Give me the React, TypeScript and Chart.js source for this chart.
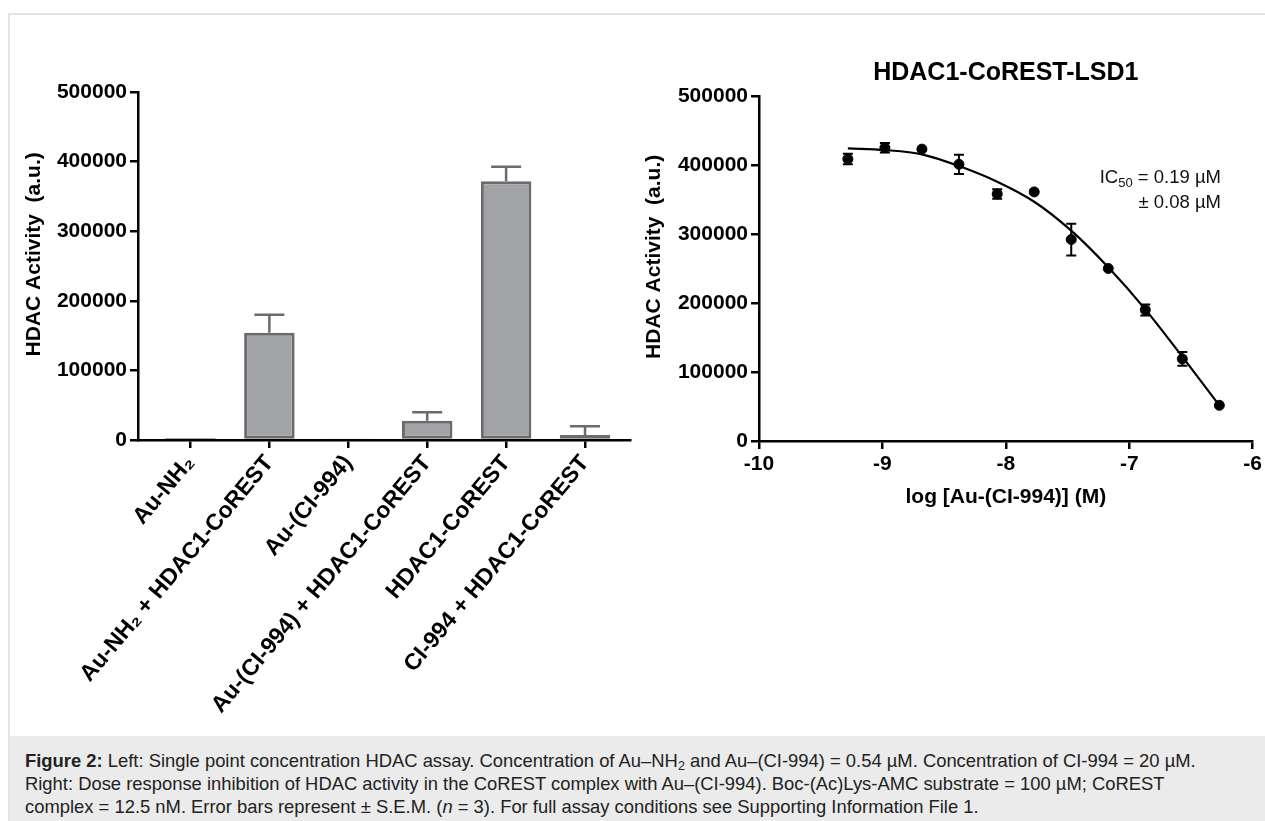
import React, { useEffect, useRef } from "react";
import { Chart, registerables } from "chart.js";

Chart.register(...registerables);

// ---------- data ----------
const barCategories = [
  "Au-NH₂",
  "Au-NH₂ + HDAC1-CoREST",
  "Au-(CI-994)",
  "Au-(CI-994) + HDAC1-CoREST",
  "HDAC1-CoREST",
  "CI-994 + HDAC1-CoREST",
];
const barValues = [3000, 154000, 2000, 27700, 371700, 7200];
const barErrors = [0, 26000, 0, 12000, 21000, 12500];
const activityTicks = [0, 100000, 200000, 300000, 400000, 500000];

const doseLogConc = [-9.28, -8.98, -8.68, -8.38, -8.07, -7.77, -7.47, -7.17, -6.87, -6.57, -6.27];
const doseActivity = [408700, 425000, 423000, 401000, 358000, 361000, 292000, 250000, 190000, 119000, 51700];
const doseErrors = [7500, 7000, 0, 14000, 7000, 0, 23000, 0, 8000, 10000, 0];

const fitLogConc = [-9.28, -8.98, -8.68, -8.38, -8.07, -7.77, -7.47, -7.17, -6.87, -6.57, -6.27];
const fitActivity = [424200, 421700, 415500, 398500, 375800, 346800, 304800, 251700, 190800, 122200, 51700];
const logTicks = [-10, -9, -8, -7, -6];

// ---------- styling ----------
const FONT = "'Liberation Sans', Arial, Helvetica, sans-serif";
const boldFont = (size: number) => ({ family: FONT, size, weight: "bold" as const });

const errorBarPlugin = {
  id: "errorBars",
  afterDatasetsDraw(chart: any) {
    const { ctx } = chart;
    const ys = chart.scales.y;
    chart.data.datasets.forEach((ds: any, di: number) => {
      if (!ds.errors) return;
      const st = ds.errorStyle || {};
      const meta = chart.getDatasetMeta(di);
      meta.data.forEach((el: any, i: number) => {
        const e = ds.errors[i];
        if (!e) return;
        const raw = ds.data[i];
        const v = typeof raw === "number" ? raw : raw.y;
        const x = el.x;
        const yTop = ys.getPixelForValue(v + e);
        const yBot = st.mode === "up" ? ys.getPixelForValue(v) : ys.getPixelForValue(v - e);
        ctx.save();
        ctx.strokeStyle = st.color || "#000";
        ctx.lineWidth = st.width || 2;
        ctx.beginPath();
        ctx.moveTo(x, yBot);
        ctx.lineTo(x, yTop);
        ctx.moveTo(x - st.cap, yTop);
        ctx.lineTo(x + st.cap, yTop);
        if (st.mode !== "up") {
          ctx.moveTo(x - st.cap, yBot);
          ctx.lineTo(x + st.cap, yBot);
        }
        ctx.stroke();
        ctx.restore();
      });
    });
  },
};

const axisGrid = {
  display: true,
  drawOnChartArea: false,
  drawTicks: true,
  tickLength: 8,
  color: "#000",
  lineWidth: 2.5,
  offset: false,
};
const axisBorder = { display: true, color: "#000", width: 2.5 };

function BarChart() {
  const ref = useRef<HTMLCanvasElement | null>(null);
  useEffect(() => {
    if (!ref.current) return;
    const chart = new Chart(ref.current, {
      type: "bar",
      data: {
        datasets: [
          {
            data: barValues.map((y, i) => ({ x: i, y })),
            backgroundColor: "#a2a3a7",
            borderColor: "#6b6b6b",
            borderWidth: 3,
            borderSkipped: false,
            barPercentage: 0.64,
            categoryPercentage: 1,
            errors: barErrors,
            errorStyle: { color: "#6b6b6b", width: 2.5, cap: 15, mode: "up" },
          } as any,
        ],
      },
      options: {
        animation: false,
        responsive: false,
        maintainAspectRatio: false,
        layout: { padding: { top: 92, left: 0, right: 10, bottom: 0 } },
        plugins: { legend: { display: false }, tooltip: { enabled: false } },
        scales: {
          x: {
            type: "linear",
            min: -0.665,
            max: 5.57,
            offset: false,
            z: 1,
            afterFit: (s: any) => {
              s.height = 295;
            },
            afterBuildTicks: (s: any) => {
              s.ticks = barCategories.map((_, i) => ({ value: i }));
            },
            grid: axisGrid,
            border: axisBorder,
            ticks: {
              autoSkip: false,
              minRotation: 50,
              maxRotation: 50,
              padding: 2,
              color: "#000",
              font: boldFont(23),
              callback: (v: any) => barCategories[v] ?? "",
            },
          },
          y: {
            min: 0,
            max: 500000,
            z: 1,
            afterFit: (s: any) => {
              s.width = 138;
            },
            afterBuildTicks: (s: any) => {
              s.ticks = activityTicks.map((v) => ({ value: v }));
            },
            grid: axisGrid,
            border: axisBorder,
            ticks: { color: "#000", padding: 3, font: boldFont(21), callback: (v: any) => String(v) },
            title: {
              display: true,
              text: "    HDAC Activity  (a.u.)",
              color: "#000",
              font: boldFont(21),
              padding: { top: 22, bottom: 0 },
            },
          },
        } as any,
      },
      plugins: [errorBarPlugin],
    });
    return () => chart.destroy();
  }, []);
  return (
    <canvas
      ref={ref}
      width={640}
      height={735}
      style={{ position: "absolute", left: 0, top: 0, width: 640, height: 735 }}
    />
  );
}

function DoseChart() {
  const ref = useRef<HTMLCanvasElement | null>(null);
  useEffect(() => {
    if (!ref.current) return;
    const chart = new Chart(ref.current, {
      type: "line",
      data: {
        datasets: [
          {
            data: fitLogConc.map((x, i) => ({ x, y: fitActivity[i] })),
            borderColor: "#000",
            borderWidth: 2.2,
            pointRadius: 0,
            cubicInterpolationMode: "monotone",
            fill: false,
          },
          {
            data: doseLogConc.map((x, i) => ({ x, y: doseActivity[i] })),
            showLine: false,
            pointRadius: 5,
            pointBackgroundColor: "#000",
            pointBorderColor: "#000",
            errors: doseErrors,
            errorStyle: { color: "#000", width: 2, cap: 5, mode: "both" },
          } as any,
        ],
      },
      options: {
        animation: false,
        responsive: false,
        maintainAspectRatio: false,
        layout: { padding: { top: 0, left: 0, right: 9, bottom: 0 } },
        plugins: {
          legend: { display: false },
          tooltip: { enabled: false },
          title: {
            display: true,
            text: "HDAC1-CoREST-LSD1",
            fullSize: false,
            color: "#000",
            font: boldFont(25),
            padding: { top: 58, bottom: 8 },
          },
        },
        scales: {
          x: {
            type: "linear",
            min: -10,
            max: -6,
            z: 1,
            afterFit: (s: any) => {
              s.height = 294;
            },
            afterBuildTicks: (s: any) => {
              s.ticks = logTicks.map((v) => ({ value: v }));
            },
            grid: axisGrid,
            border: axisBorder,
            ticks: { color: "#000", padding: 3, font: boldFont(21), callback: (v: any) => String(v) },
            title: {
              display: true,
              text: "log [Au-(CI-994)] (M)",
              color: "#000",
              font: boldFont(21),
              padding: { top: 0, bottom: 225.4 },
            },
          },
          y: {
            min: 0,
            max: 500000,
            z: 1,
            afterFit: (s: any) => {
              s.width = 119;
            },
            afterBuildTicks: (s: any) => {
              s.ticks = activityTicks.map((v) => ({ value: v }));
            },
            grid: axisGrid,
            border: axisBorder,
            ticks: { color: "#000", padding: 3, font: boldFont(21), callback: (v: any) => String(v) },
            title: {
              display: true,
              text: "    HDAC Activity  (a.u.)",
              color: "#000",
              font: boldFont(21),
              padding: { top: 1.4, bottom: 0 },
            },
          },
        } as any,
      },
      plugins: [errorBarPlugin],
    });
    return () => chart.destroy();
  }, []);
  return (
    <canvas
      ref={ref}
      width={625}
      height={735}
      style={{ position: "absolute", left: 640, top: 0, width: 625, height: 735 }}
    />
  );
}

export default function App() {
  return (
    <div
      style={{
        position: "relative",
        width: 1265,
        height: 821,
        overflow: "hidden",
        background: "#fff",
        fontFamily: FONT,
      }}
    >
      <style>{`html,body{margin:0;padding:0;overflow:hidden;background:#fff}`}</style>
      <div
        style={{
          position: "absolute",
          left: 8,
          top: 13,
          width: 1300,
          height: 900,
          borderTop: "2px solid #e3e3e3",
          borderLeft: "2px solid #e3e3e3",
        }}
      />
      <BarChart />
      <DoseChart />
      <div
        style={{
          position: "absolute",
          right: 44,
          top: 164,
          textAlign: "right",
          fontSize: 18.5,
          lineHeight: "25px",
          color: "#111",
          whiteSpace: "nowrap",
        }}
      >
        <div>
          IC<sub style={{ fontSize: 13, verticalAlign: "-4px", lineHeight: 0 }}>50</sub> = 0.19 µM
        </div>
        <div>± 0.08 µM</div>
      </div>
      <div
        style={{
          position: "absolute",
          left: 10,
          top: 736,
          right: 0,
          bottom: 0,
          background: "#ebebeb",
          padding: "13px 0 0 15px",
          fontSize: 18.4,
          lineHeight: "23px",
          color: "#222",
          whiteSpace: "nowrap",
        }}
      >
        <div>
          <b>Figure 2:</b> Left: Single point concentration HDAC assay. Concentration of Au–NH
          <sub style={{ fontSize: 12.5, verticalAlign: "-3px", lineHeight: 0 }}>2</sub> and Au–(CI-994) = 0.54 µM.
          Concentration of CI-994 = 20 µM.
        </div>
        <div>
          Right: Dose response inhibition of HDAC activity in the CoREST complex with Au–(CI-994). Boc-(Ac)Lys-AMC
          substrate = 100 µM; CoREST
        </div>
        <div>
          complex = 12.5 nM. Error bars represent ± S.E.M. (<i>n</i> = 3). For full assay conditions see Supporting
          Information File 1.
        </div>
      </div>
    </div>
  );
}
